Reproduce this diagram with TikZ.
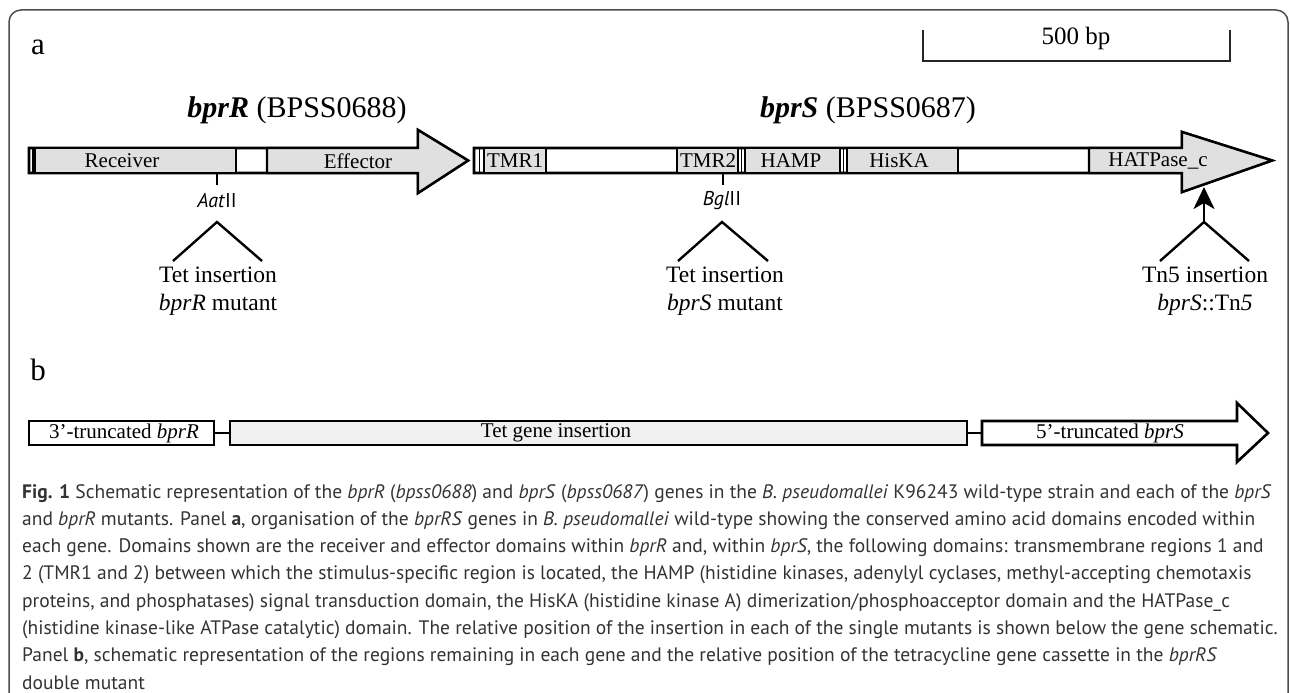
\documentclass[tikz,border=0pt]{standalone}
\usepackage{fontspec}
\setmainfont{Liberation Serif}
\newfontfamily\capfont{PT Sans}
\usetikzlibrary{arrows.meta,positioning}

\tikzset{
  frameline/.style={draw=black!70, line width=1.5pt, rounded corners=12pt},
  gene/.style={draw=black, line width=2.6pt, fill=white, line join=miter},
  dombox/.style={draw=black, line width=2.4pt, fill=black!12, line join=miter},
  divider/.style={draw=black, line width=1.6pt},
  dlabel/.style={inner sep=0pt, font=\fontsize{21}{24}\selectfont},
  genename/.style={inner sep=0pt, font=\fontsize{30}{34}\selectfont},
  panel/.style={inner sep=0pt, font=\fontsize{31}{34}\selectfont},
  site/.style={inner sep=0pt, font=\capfont\fontsize{20}{24}\selectfont},
  ins/.style={inner sep=0pt, align=center, font=\fontsize{23.5}{28}\selectfont},
  sitetick/.style={line width=2.4pt},
  wedgeline/.style={line width=2.4pt},
  scalebar/.style={line width=2.2pt, draw=black!85},
  boxb/.style={draw=black, line width=2.6pt, inner sep=0pt, minimum height=24pt},
  link/.style={line width=2.4pt},
  capt/.style={inner sep=0pt, align=left, text=black!80,
    font=\capfont\fontsize{19.5}{27.3}\selectfont}
}

\begin{document}
\begin{tikzpicture}[x=1pt,y=-1pt]
\useasboundingbox (0,0) rectangle (1290,693);
% frame
\draw[frameline] (9,700) -- (9,10) -- (1288,10) -- (1288,700);

% panel letters
\node[panel] (pa) at (38,47) {a};
\node[panel] (pb) at (38,370) {b};

% scale bar
\draw[scalebar] (923,30) -- (923,61) -- (1230,61) -- (1230,30);
\node[ins, font=\fontsize{25}{28}\selectfont] (bp) at (1076,38) {500 bp};

% bprR
\node[genename] (nameR) at (297,110) {\textbf{\textit{bprR}} (BPSS0688)};
\draw[gene] (29,148) -- (418,148) -- (418,130) -- (468,160.5) -- (418,193) -- (418,173) -- (29,173) -- cycle;
\draw[dombox] (35,148) rectangle (236,173);
\draw[dombox] (267,173) -- (267,148) -- (418,148) -- (418,130) -- (468,160.5) -- (418,193) -- (418,173) -- cycle;
\draw[divider] (33,148) -- (33,173);
\node[dlabel] (rec) at (122,161) {Receiver};
\node[dlabel] (eff) at (358,161) {Effector};

% bprS
\node[genename] (nameS) at (868,110) {\textbf{\textit{bprS}} (BPSS0687)};
\draw[gene] (474,148) -- (1182,148) -- (1182,132) -- (1272,160.5) -- (1182,192) -- (1182,173) -- (474,173) -- cycle;
\draw[dombox] (484,148) rectangle (546,173);
\draw[dombox] (677,148) rectangle (738,173);
\draw[dombox] (745,148) rectangle (840,173);
\draw[dombox] (847,148) rectangle (958,173);
\draw[dombox] (1089,173) -- (1089,148) -- (1182,148) -- (1182,132) -- (1272,160.5) -- (1182,192) -- (1182,173) -- cycle;
\draw[divider] (479.5,148) -- (479.5,173);
\draw[divider] (741.5,148) -- (741.5,173);
\draw[divider] (843.5,148) -- (843.5,173);
\node[dlabel] (tmr1) at (515,161) {TMR1};
\node[dlabel] (tmr2) at (708,161) {TMR2};
\node[dlabel] (hamp) at (791,161) {HAMP};
\node[dlabel] (hiska) at (899,161) {HisKA};
\node[dlabel] (hatp) at (1158,161) {HATPase\_c};

% insertion sites
\coordinate (cutR) at (217,173);
\node[site] (aat) at (217,201) {\textit{Aat}II};
\draw[sitetick] (cutR) -- ++(0,12);
\coordinate (apR) at (217,222);
\draw[wedgeline] ([shift={(-44,39)}]apR) -- (apR) -- ([shift={(45,39)}]apR);
\node[ins] (tetR) at (218,291) {Tet insertion\\\textit{bprR} mutant};

\coordinate (cutS) at (723,173);
\node[site] (bgl) at (722,201) {\textit{Bgl}II};
\draw[sitetick] (cutS) -- ++(0,12);
\coordinate (apS) at (722,222);
\draw[wedgeline] ([shift={(-44,39)}]apS) -- (apS) -- ([shift={(46,39)}]apS);
\node[ins] (tetS) at (725,291) {Tet insertion\\\textit{bprS} mutant};

\coordinate (apT) at (1204,222);
\coordinate (tnTip) at (1204,187);
\draw[wedgeline, -{Stealth[length=22pt,width=21pt,inset=6pt]}] (apT) -- (tnTip);
\draw[wedgeline] ([shift={(-44,39)}]apT) -- (apT) -- ([shift={(45,39)}]apT);
\node[ins] (tn5) at (1205,291) {Tn5 insertion\\\textit{bprS}::Tn\textit{5}};

% double mutant
\node[boxb, fill=white, minimum width=185pt] (trR) at (121.5,433) {};
\node[dlabel] (trRt) at (124,433) {3’-truncated \textit{bprR}};
\node[boxb, fill=black!6, minimum width=737pt] (tet) at (598.5,433) {};
\node[dlabel] (tett) at (556,433) {Tet gene insertion};
\draw[gene] (982,421) -- (1237,421) -- (1237,403) -- (1268,433) -- (1237,462) -- (1237,445) -- (982,445) -- cycle;
\coordinate (trSw) at (982,433);
\node[dlabel] (trSt) at (1110,433) {5’-truncated \textit{bprS}};
\draw[link] (trR.east) -- (tet.west);
\draw[link] (tet.east) -- (trSw);

% caption
\node[capt, anchor=north west] (cap) at (22,484) {%
\textbf{Fig. 1} Schematic representation of the \textit{bprR} (\textit{bpss0688}) and \textit{bprS} (\textit{bpss0687}) genes in the \textit{B. pseudomallei} K96243 wild-type strain and each of the \textit{bprS}\\
and \textit{bprR} mutants. Panel \textbf{a}, organisation of the \textit{bprRS} genes in \textit{B. pseudomallei} wild-type showing the conserved amino acid domains encoded within\\
each gene. Domains shown are the receiver and effector domains within \textit{bprR} and, within \textit{bprS}, the following domains: transmembrane regions 1 and\\
2 (TMR1 and 2) between which the stimulus-specific region is located, the HAMP (histidine kinases, adenylyl cyclases, methyl-accepting chemotaxis\\
proteins, and phosphatases) signal transduction domain, the HisKA (histidine kinase A) dimerization/phosphoacceptor domain and the HATPase\_c\\
(histidine kinase-like ATPase catalytic) domain. The relative position of the insertion in each of the single mutants is shown below the gene schematic.\\
Panel \textbf{b}, schematic representation of the regions remaining in each gene and the relative position of the tetracycline gene cassette in the \textit{bprRS}\\
double mutant};
\end{tikzpicture}
\end{document}
